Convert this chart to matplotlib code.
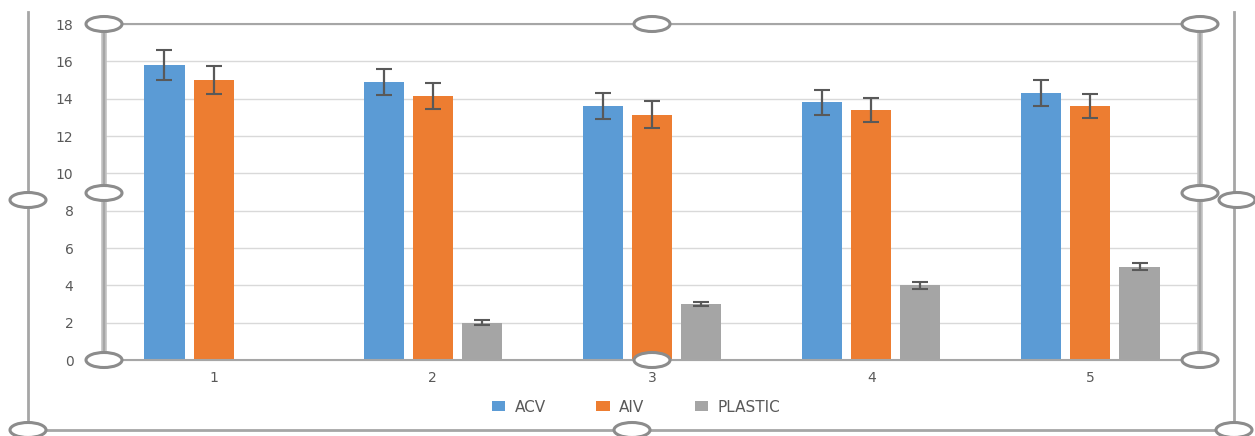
import numpy as np
import matplotlib.pyplot as plt
from matplotlib.patches import Ellipse
from matplotlib.lines import Line2D

# data
groups = ['1', '2', '3', '4', '5']
acv = [15.8, 14.9, 13.6, 13.8, 14.3]
acv_err = [0.8, 0.7, 0.7, 0.65, 0.7]
aiv = [15.0, 14.15, 13.15, 13.4, 13.6]
aiv_err = [0.75, 0.7, 0.7, 0.65, 0.65]
plastic = [np.nan, 2.0, 3.0, 4.0, 5.0]
plastic_err = [np.nan, 0.15, 0.12, 0.2, 0.2]

series = [('ACV', acv, acv_err, '#5B9BD5'),
          ('AIV', aiv, aiv_err, '#ED7D31'),
          ('PLASTIC', plastic, plastic_err, '#A5A5A5')]

W, H = 1255, 436
fig = plt.figure(figsize=(W / 100, H / 100), dpi=100)
ax = fig.add_axes([104 / W, 1 - 360 / H, (1200 - 104) / W, (360 - 24) / H])

x = np.arange(len(groups))
bw = 0.183
step = 0.224
for i, (name, vals, errs, col) in enumerate(series):
    ax.bar(x + (i - 1) * step, vals, width=bw, color=col, label=name, zorder=2)
    ax.errorbar(x + (i - 1) * step, vals, yerr=errs, fmt='none', ecolor='#595959',
                elinewidth=1.6, capsize=6, capthick=1.5, zorder=3)

ax.set_xlim(-0.5, 4.5)
ax.set_ylim(0, 18)
ax.set_yticks(np.arange(0, 19, 2))
ax.set_xticks(x)
ax.set_xticklabels(groups)
ax.grid(axis='y', color='#d9d9d9', linewidth=1, zorder=0)
for s in ['top', 'right', 'left']:
    ax.spines[s].set_visible(False)
ax.spines['bottom'].set_color('#bfbfbf')
ax.tick_params(axis='y', length=0, pad=22, labelsize=10, labelcolor='#595959')
ax.tick_params(axis='x', length=0, pad=8, labelsize=10, labelcolor='#595959')

fig.legend(loc='center', bbox_to_anchor=(636 / W, 1 - 407 / H), ncol=3, frameon=False,
           fontsize=11, handlelength=0.9, handleheight=0.65, columnspacing=3.3,
           handletextpad=0.6, labelcolor='#595959')

# selection frame overlay (Excel handles)
ov = fig.add_axes([0, 0, 1, 1], zorder=5)
ov.set_xlim(0, W)
ov.set_ylim(H, 0)
ov.axis('off')
ov.patch.set_alpha(0)
fc = '#a6a6a6'
# plot area frame
ov.add_line(Line2D([104, 1200, 1200, 104, 104], [24, 24, 360, 360, 24], color=fc, lw=1.5))
ov.add_line(Line2D([104, 104], [24, 360], color='#c0c0c0', lw=4, zorder=1))
ov.add_line(Line2D([1200, 1200], [24, 360], color='#c0c0c0', lw=4, zorder=1))
# outer chart frame
ov.add_line(Line2D([28, 28, 1234, 1234], [12, 430, 430, 12], color=fc, lw=2))
handles = [(104, 24), (104, 193), (104, 360), (652, 24), (652, 360),
           (1200, 24), (1200, 193), (1200, 360),
           (28, 200), (28, 430), (632, 430), (1234, 430), (1237, 200)]
for hx, hy in handles:
    ov.add_patch(Ellipse((hx, hy), 36, 15, facecolor='white', edgecolor='#8c8c8c', lw=2.2, zorder=4))

fig.savefig('out.png', dpi=100)
